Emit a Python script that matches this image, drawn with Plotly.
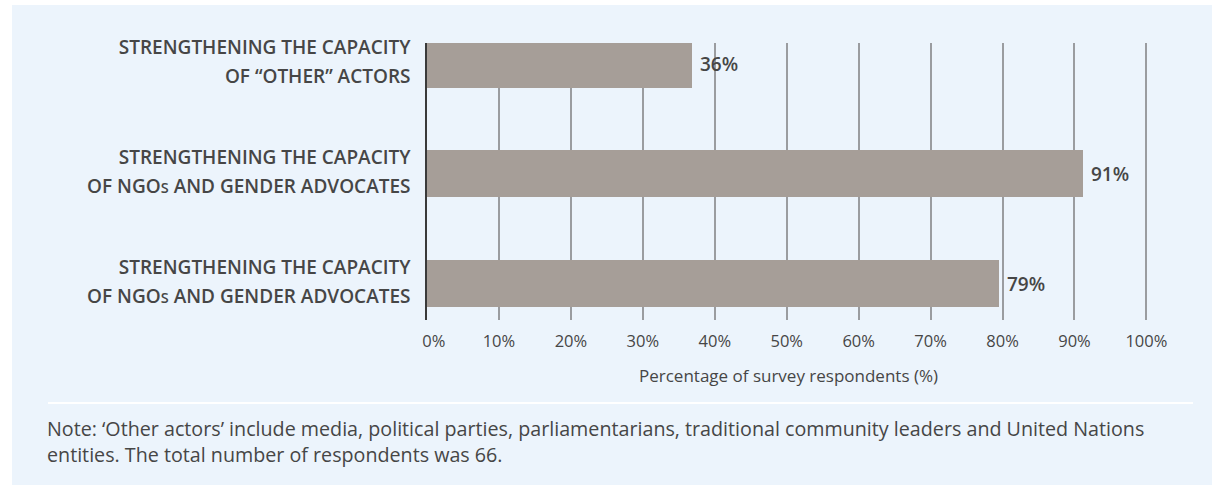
import plotly.graph_objects as go

# ---------------- data ----------------
CATEGORY_LINE1 = [
    "STRENGTHENING THE CAPACITY",
    "STRENGTHENING THE CAPACITY",
    "STRENGTHENING THE CAPACITY",
]
CATEGORY_LINE2 = [
    "OF “OTHER” ACTORS",
    "OF NGOs AND GENDER ADVOCATES",
    "OF NGOs AND GENDER ADVOCATES",
]
VALUES = [36.9, 91.2, 79.5]
VALUE_LABELS = ["36%", "91%", "79%"]
X_TICK_VALUES = [0, 10, 20, 30, 40, 50, 60, 70, 80, 90, 100]
X_TICK_LABELS = ["0%", "10%", "20%", "30%", "40%", "50%", "60%", "70%", "80%", "90%", "100%"]
X_AXIS_TITLE = "Percentage of survey respondents (%)"
NOTE_LINES = [
    "Note: ‘Other actors’ include media, political parties, parliamentarians, traditional community leaders and United Nations",
    "entities. The total number of respondents was 66.",
]

# ---------------- layout constants ----------------
W, H = 1212, 485
L, R, T, B = 427, 62, 43, 165
PW, PH = W - L - R, H - T - B
FONT = "Open Sans"
TEXT_COL = "#464646"
PANEL_COL = "#ECF4FC"
BAR_COL = "#A69E98"
GRID_COL = "#9A9CA0"


def px(xp):
    return (xp - L) / PW


def py(yp):
    return (H - B - yp) / PH


LABEL_SIZE = 19


def fmt_line(s):
    s = s.replace("NGOs", "NGO<span style='font-size:14.5px'>S</span>")
    return f"<span style='font-size:{LABEL_SIZE}px'>{s}</span>"


y_pos = list(range(len(VALUES)))
y_ticktext = [fmt_line(a) + "<br>" + fmt_line(b) for a, b in zip(CATEGORY_LINE1, CATEGORY_LINE2)]
x_ticktext = [("\u2007\u00a0" + t) if v == 0 else t for v, t in zip(X_TICK_VALUES, X_TICK_LABELS)]

fig = go.Figure()
fig.add_trace(
    go.Bar(
        x=VALUES,
        y=y_pos,
        orientation="h",
        width=0.433,
        marker=dict(color=BAR_COL, line=dict(width=0)),
        text=["\u00a0" + t for t in VALUE_LABELS],
        textposition="outside",
        constraintext="none",
        cliponaxis=False,
        textfont=dict(family=FONT, size=19, color=TEXT_COL, weight=600),
        hoverinfo="skip",
    )
)

fig.update_layout(
    width=W,
    height=H,
    margin=dict(l=L, r=R, t=T, b=B, pad=0),
    paper_bgcolor="white",
    plot_bgcolor="rgba(0,0,0,0)",
    showlegend=False,
    font=dict(family=FONT, color=TEXT_COL),
    bargap=0,
    xaxis=dict(
        range=[0, 100.5],
        tickvals=X_TICK_VALUES,
        ticktext=x_ticktext,
        showgrid=True,
        gridcolor=GRID_COL,
        gridwidth=2,
        zeroline=False,
        showline=False,
        ticks="",
        ticklabelstandoff=9,
        tickfont=dict(family=FONT, size=16.5, color=TEXT_COL),
        title=dict(text=X_AXIS_TITLE, font=dict(family=FONT, size=17, color=TEXT_COL), standoff=19),
        fixedrange=True,
    ),
    yaxis=dict(
        range=[2.333, -0.191],
        tickvals=y_pos,
        ticktext=y_ticktext,
        showgrid=False,
        zeroline=False,
        showline=True,
        linecolor="#3A3A3A",
        linewidth=2,
        ticks="",
        ticklabelstandoff=10,
        ticklabelshift=3,
        tickfont=dict(family=FONT, size=22.5, color=TEXT_COL, weight=600),
        fixedrange=True,
    ),
    shapes=[
        dict(type="rect", xref="paper", yref="paper", x0=px(12), x1=px(1212), y0=py(485), y1=py(5),
             fillcolor=PANEL_COL, line=dict(width=0), layer="below"),
        dict(type="line", xref="paper", yref="paper", x0=px(48), x1=px(1193), y0=py(403), y1=py(403),
             line=dict(color="white", width=2), layer="below"),
    ],
    annotations=[
        dict(
            xref="paper", yref="paper", x=px(45), y=py(413), xanchor="left", yanchor="top",
            align="left", showarrow=False, text="<br>".join(NOTE_LINES),
            font=dict(family=FONT, size=19.7, color=TEXT_COL),
        )
    ],
)

fig.write_html("out.html")
